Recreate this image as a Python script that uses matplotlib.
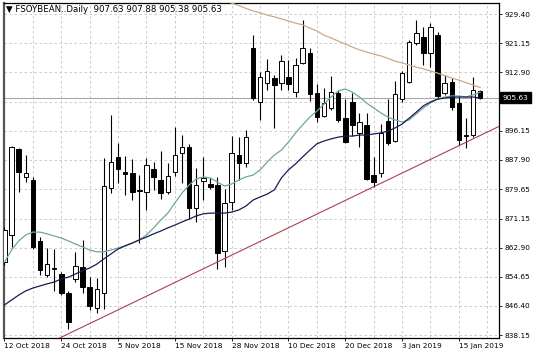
import matplotlib
matplotlib.use("Agg")
import matplotlib.pyplot as plt
import matplotlib.transforms as mtransforms

# daily bars, 12 Oct 2018 .. 18 Jan 2019
opens = [858.9, 866.6, 891.0, 883.1, 882.2, 864.9, 855.2, 857.2, 855.5, 850.1,
         854.1, 857.5, 851.8, 845.8, 850.1, 879.9, 888.8, 884.5, 884.2, 879.4,
         878.8, 885.3, 882.2, 878.8, 884.5, 889.9, 891.6, 874.3, 881.9, 881.1,
         880.8, 862.0, 876.0, 889.3, 887.0, 919.7, 904.4, 909.8, 911.2, 909.8,
         911.5, 907.2, 915.5, 918.3, 906.9, 900.4, 902.7, 906.9, 899.8, 904.4,
         895.6, 897.9, 883.6, 884.2, 899.0, 893.3, 905.2, 910.1, 921.2, 922.9,
         918.3, 923.4, 906.9, 910.1, 904.1, 895.0, 895.0, 907.63]
highs = [868.9, 891.9, 891.3, 889.3, 883.1, 866.0, 862.9, 862.6, 856.1, 850.7,
         861.8, 865.2, 854.6, 854.4, 888.5, 900.7, 892.7, 889.0, 888.2, 883.6,
         888.5, 887.3, 890.5, 887.0, 897.3, 895.0, 892.5, 885.6, 888.8, 882.8,
         883.1, 879.7, 894.7, 894.4, 896.4, 923.4, 912.9, 916.6, 912.1, 917.7,
         916.3, 916.9, 927.7, 919.7, 909.5, 908.4, 911.8, 907.8, 905.2, 906.9,
         901.3, 901.3, 888.8, 898.1, 905.2, 910.4, 913.2, 922.0, 927.7, 925.7,
         926.8, 924.3, 912.1, 911.2, 906.1, 899.8, 911.5, 907.88]
lows = [858.1, 863.2, 878.8, 881.6, 862.6, 855.2, 854.6, 850.7, 849.5, 839.9,
        853.2, 850.1, 845.3, 844.4, 845.5, 878.5, 881.3, 877.9, 876.5, 864.3,
        873.7, 879.4, 876.8, 878.2, 883.3, 881.4, 871.1, 870.3, 876.5, 879.7,
        856.9, 857.5, 873.7, 882.2, 885.9, 905.0, 899.3, 907.8, 897.0, 907.8,
        907.8, 905.8, 915.2, 904.7, 898.7, 900.1, 902.1, 898.7, 892.7, 894.7,
        891.6, 882.2, 880.2, 883.1, 892.2, 893.0, 904.4, 909.8, 920.6, 914.9,
        914.3, 905.2, 906.4, 902.1, 892.2, 891.3, 894.4, 905.38]
closes = [868.0, 891.6, 884.5, 884.2, 863.2, 856.6, 858.3, 856.9, 850.1, 841.8,
          857.8, 851.8, 846.4, 851.2, 880.5, 887.3, 885.3, 883.9, 878.8, 879.1,
          886.5, 883.1, 878.5, 883.3, 889.3, 891.6, 874.3, 880.8, 882.8, 880.2,
          861.5, 875.7, 889.9, 887.0, 894.4, 905.5, 911.5, 913.2, 909.2, 916.0,
          909.5, 914.9, 919.7, 906.7, 900.1, 904.1, 907.2, 899.3, 893.0, 897.9,
          898.7, 882.5, 881.6, 895.6, 892.7, 906.7, 912.6, 921.4, 924.0, 918.3,
          925.7, 906.1, 909.8, 903.0, 893.6, 894.7, 907.8, 905.63]

# moving averages as drawn
ma_fast = [858.9, 862.3, 864.9, 866.6, 867.4, 867.4, 866.9, 866.3, 865.7, 864.9,
           864.0, 863.2, 862.3, 861.8, 861.8, 862.3, 862.9, 863.5, 864.3, 865.2,
           866.6, 868.6, 870.8, 872.8, 875.7, 878.5, 880.8, 882.5, 883.1, 882.8,
           881.6, 880.5, 881.1, 882.2, 883.1, 883.6, 885.1, 887.3, 889.3, 890.7,
           893.0, 895.6, 897.9, 900.1, 901.8, 903.8, 905.8, 907.5, 908.1, 907.2,
           905.8, 904.1, 902.7, 901.3, 900.1, 899.3, 898.7, 899.3, 901.0, 902.7,
           904.1, 905.2, 905.8, 906.1, 906.1, 905.8, 906.4, 907.2]
ma_slow = [846.7, 848.1, 849.5, 850.7, 851.5, 852.1, 852.7, 853.2, 854.1, 854.6,
           855.5, 856.4, 857.2, 858.3, 859.8, 861.2, 862.6, 863.5, 864.3, 865.2,
           866.0, 866.9, 867.7, 868.6, 869.4, 870.3, 871.1, 872.0, 872.6, 872.8,
           872.8, 872.8, 873.1, 873.7, 874.8, 876.5, 877.4, 878.2, 879.4, 882.8,
           885.1, 886.8, 888.8, 890.7, 892.5, 893.3, 893.9, 894.4, 894.7, 894.7,
           895.0, 895.0, 895.3, 895.6, 896.1, 897.0, 898.1, 899.8, 901.5, 903.3,
           904.4, 905.2, 905.5, 905.8, 905.8, 905.8, 905.8, 905.5]
ma_long_start = 30
ma_long = [934.0, 933.1, 932.5, 931.8, 931.0, 930.3, 929.7, 929.1, 928.6, 928.0,
           927.4, 926.8, 926.3, 925.4, 924.6, 923.4, 922.6, 921.7, 920.9, 920.0,
           919.2, 918.6, 918.0, 917.5, 916.8, 916.0, 915.5, 914.9, 914.3, 913.8,
           913.2, 912.6, 911.9, 911.2, 910.6, 909.9, 909.2, 908.5]

# support trendline anchors (bar index, price)
trend_a = (9, 838.5)
trend_b = (52, 880.3)

price_levels = [929.40, 921.15, 912.90, 904.40, 896.15, 887.90,
                879.65, 871.15, 862.90, 854.65, 846.40, 838.15]
date_labels = ["12 Oct 2018", "24 Oct 2018", "5 Nov 2018", "15 Nov 2018",
               "28 Nov 2018", "10 Dec 2018", "20 Dec 2018", "3 Jan 2019",
               "15 Jan 2019"]
header = "\u25bc FSOYBEAN..Daily  907.63 907.88 905.38 905.63"
last_price = 905.63


def draw_candles(ax):
    n = len(opens)
    xs = list(range(n))
    ax.vlines(xs, lows, highs, color="black", linewidth=0.8, zorder=3)
    bottoms = [min(o, c) for o, c in zip(opens, closes)]
    heights = [max(abs(c - o), 0.15) for o, c in zip(opens, closes)]
    colors = ["white" if c >= o else "black" for o, c in zip(opens, closes)]
    ax.bar(xs, heights, bottom=bottoms, width=0.64, color=colors,
           edgecolor="black", linewidth=0.7, zorder=4)


def main():
    fig = plt.figure(figsize=(5.36, 3.58), dpi=100)
    ax = fig.add_axes([4 / 536, 1 - 338 / 358, 495 / 536, 335 / 358])
    fs = 5.3

    n = len(opens)
    # grid
    for lv in price_levels:
        ax.axhline(lv, color="#c4c4c4", linewidth=0.6, linestyle=(0, (3, 3)), zorder=1)
    for gx in range(0, 72, 4):
        ax.axvline(gx, color="#c4c4c4", linewidth=0.6, linestyle=(0, (3, 3)), zorder=1)

    ax.axhline(last_price, color="#a8a8a8", linewidth=0.8, zorder=2)

    xs = list(range(n))
    ax.plot(xs, ma_fast, color="#6fa89a", linewidth=0.9, zorder=5)
    ax.plot(xs, ma_slow, color="#1b1b55", linewidth=0.9, zorder=5)
    ax.plot(range(ma_long_start, ma_long_start + len(ma_long)), ma_long,
            color="#c9aa86", linewidth=0.9, zorder=5)
    ax.axline(trend_a, trend_b, color="#a8404c", linewidth=0.8, zorder=5)

    draw_candles(ax)

    ax.set_xlim(-0.07, 69.65)
    ax.set_ylim(837.30, 932.53)

    ax.yaxis.tick_right()
    ax.set_yticks(price_levels)
    ax.set_yticklabels([f"{v:.2f}" for v in price_levels])
    ax.tick_params(axis="y", direction="out", length=2.5, width=0.6, pad=1.5,
                   labelsize=fs, colors="black")

    ax.set_xticks(list(range(0, 8 * len(date_labels), 8)))
    ax.set_xticklabels(date_labels, ha="left")
    ax.tick_params(axis="x", direction="out", length=2.5, width=0.6, pad=1.2,
                   labelsize=fs, colors="black")

    for side in ["top", "right", "bottom"]:
        ax.spines[side].set_color("black")
        ax.spines[side].set_linewidth(0.9)
    ax.spines["left"].set_color("#555555")
    ax.spines["left"].set_linewidth(1.6)

    trans = mtransforms.blended_transform_factory(ax.transAxes, ax.transData)
    ax.text(1.008, last_price, "905.63", transform=trans, ha="left", va="center",
            fontsize=fs, color="white", zorder=10, clip_on=False,
            bbox=dict(boxstyle="square,pad=0.35", fc="black", ec="black"))

    fig.text(6 / 536, 1 - 10 / 358, header, fontsize=6.2, ha="left",
             va="center", color="black")

    fig.savefig("out.png", dpi=100, facecolor="white")


if __name__ == "__main__":
    main()
